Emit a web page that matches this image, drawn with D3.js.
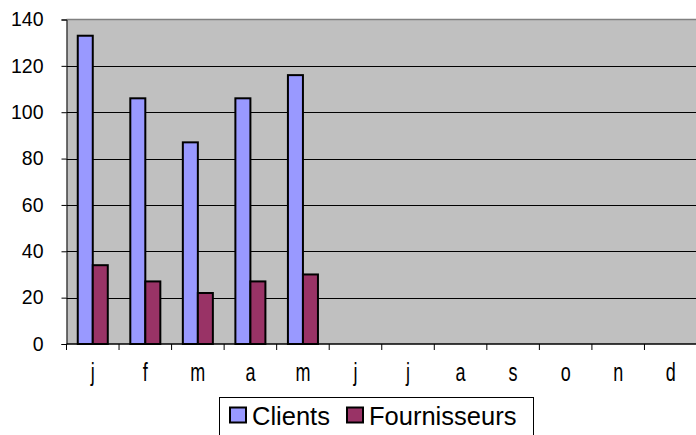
<!DOCTYPE html>
<html>
<head>
<meta charset="utf-8">
<script src="https://cdn.jsdelivr.net/npm/d3@7"></script>
<style>
  body { margin: 0; background: #fff; }
</style>
</head>
<body>
<svg id="chart" width="696" height="435"></svg>
<script>
// month initials
var months = ["j","f","m","a","m","j","j","a","s","o","n","d"];
var clients = [133, 106, 87, 106, 116];
var fournisseurs = [34, 27, 22, 27, 30];
var yTicks = [0, 20, 40, 60, 80, 100, 120, 140];
var seriesNames = ["Clients", "Fournisseurs"];
var seriesColors = ["#9999FF", "#993366"];

var FONT = "'Liberation Sans', Arial, sans-serif";
var svg = d3.select("#chart");
var plot = {left: 66.5, right: 697, top: 19.5, bottom: 344};

var xScale = d3.scaleBand()
  .domain(d3.range(months.length))
  .range([plot.left, plot.right])
  .paddingInner(0).paddingOuter(0);

var yScale = d3.scaleLinear().domain([0, 140]).range([plot.bottom, plot.top]);

// bars inside a category: gap 150%
var inner = d3.scaleBand()
  .domain(seriesNames)
  .range([0, xScale.bandwidth()])
  .paddingOuter(0.75).paddingInner(0);

// plot background
svg.append("rect")
  .attr("x", plot.left).attr("y", plot.top)
  .attr("width", plot.right - plot.left).attr("height", plot.bottom - plot.top)
  .attr("fill", "#C0C0C0");
svg.append("line")
  .attr("x1", plot.left).attr("x2", plot.right)
  .attr("y1", plot.top).attr("y2", plot.top)
  .attr("stroke", "#808080").attr("stroke-width", 1.5);

// gridlines
svg.append("g").selectAll("line")
  .data(yTicks.filter(function(d){ return d > 0 && d < 140; }))
  .enter().append("line")
  .attr("x1", plot.left).attr("x2", plot.right)
  .attr("y1", function(d){ return Math.round(yScale(d)) + 0.5; })
  .attr("y2", function(d){ return Math.round(yScale(d)) + 0.5; })
  .attr("stroke", "#000").attr("stroke-width", 1);

// bars
var data = [clients, fournisseurs];
data.forEach(function(values, s){
  svg.append("g").selectAll("rect")
    .data(values)
    .enter().append("rect")
    .attr("x", function(d, i){ return xScale(i) + inner(seriesNames[s]); })
    .attr("y", function(d){ return yScale(d); })
    .attr("width", inner.bandwidth())
    .attr("height", function(d){ return plot.bottom - yScale(d); })
    .attr("fill", seriesColors[s])
    .attr("stroke", "#000").attr("stroke-width", 2);
});

// y axis
var yAxis = d3.axisLeft(yScale).tickValues(yTicks).tickSize(5).tickPadding(18);
var gy = svg.append("g").attr("transform", "translate(" + plot.left + ",0)").call(yAxis);
gy.select(".domain").attr("stroke", "#000");
gy.selectAll("line").attr("stroke", "#000");
gy.selectAll("text")
  .style("font-family", FONT).style("font-size", "19.5px").attr("fill", "#000");

// x axis with ticks at category boundaries
var gx = svg.append("g").attr("transform", "translate(0," + plot.bottom + ")");
gx.append("line").attr("x1", plot.left).attr("x2", plot.right)
  .attr("stroke", "#000").attr("stroke-width", 1.5);
gx.selectAll(".tick").data(d3.range(months.length + 1)).enter().append("line")
  .attr("x1", function(i){ return plot.left + i * xScale.step(); })
  .attr("x2", function(i){ return plot.left + i * xScale.step(); })
  .attr("y1", 0).attr("y2", 6).attr("stroke", "#000");
// labels in the source are stretched vertically
gx.selectAll("text").data(months).enter().append("text")
  .attr("transform", function(d, i){
    return "translate(" + (xScale(i) + xScale.bandwidth() / 2) + ",37) scale(1,1.45)";
  })
  .attr("text-anchor", "middle")
  .style("font-family", FONT)
  .style("font-size", "18px")
  .text(function(d){ return d; });

// legend
var legend = svg.append("g");
legend.append("rect")
  .attr("x", 219.5).attr("y", 397.5).attr("width", 314).attr("height", 40)
  .attr("fill", "#fff").attr("stroke", "#000");
var items = [{x: 230, name: seriesNames[0], color: seriesColors[0]},
             {x: 347, name: seriesNames[1], color: seriesColors[1]}];
items.forEach(function(it){
  legend.append("rect")
    .attr("x", it.x).attr("y", 407.5).attr("width", 16).attr("height", 15)
    .attr("fill", it.color).attr("stroke", "#000").attr("stroke-width", 2);
  legend.append("text")
    .attr("x", it.x + 22).attr("y", 425)
    .style("font-family", FONT)
    .style("font-size", "25.5px")
    .text(it.name);
});
</script>
</body>
</html>
